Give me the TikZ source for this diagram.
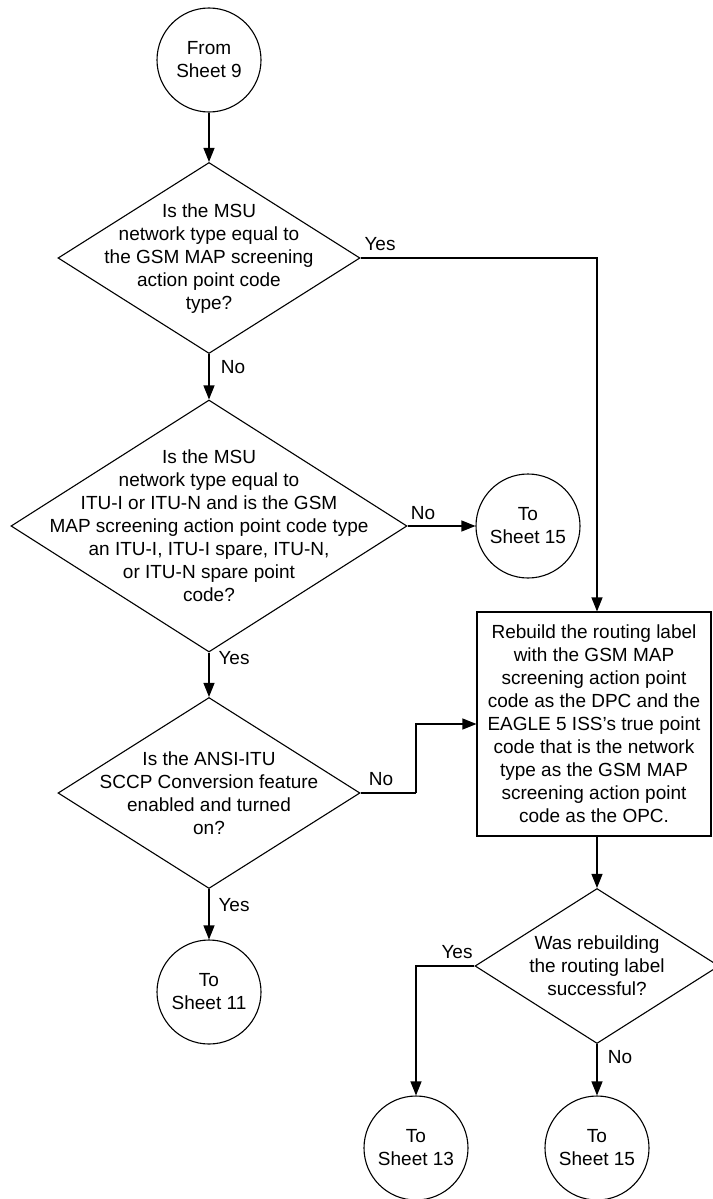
\documentclass[tikz,border=0pt]{standalone}
\usepackage{fontspec}
\setmainfont{Liberation Sans}
\usetikzlibrary{shapes.geometric,arrows.meta}
\begin{document}
\begin{tikzpicture}[x=1pt,y=-1pt,
  every node/.style={font=\fontsize{19}{23}\selectfont},
  conn/.style={circle,draw,line width=1.1pt,minimum size=104pt,inner sep=0pt,align=center},
  dia/.style={diamond,draw,line width=1.1pt,inner sep=0pt},
  txt/.style={align=center,inner sep=0pt},
  proc/.style={rectangle,draw,line width=1.1pt,minimum width=234pt,minimum height=224pt,align=center,inner sep=0pt},
  lbl/.style={inner sep=0pt},
  line/.style={line width=1.1pt},
  arr/.style={line width=1.1pt,-{Triangle[length=14pt,width=11pt]}}]
\useasboundingbox (0,0) rectangle (712,1199);
% nodes
\node[conn] (c1) at (209,60) {From\\Sheet 9};
\node[dia,minimum width=302pt,minimum height=191pt] (d1) at (209,258) {};
\node[txt] (t1) at (209,259) {Is the MSU\\network type equal to\\the GSM MAP screening\\action point code\\type?};
\node[dia,minimum width=396pt,minimum height=252pt] (d2) at (209,526) {};
\node[txt] (t2) at (209,526) {Is the MSU\\network type equal to\\ITU-I or ITU-N and is the GSM\\MAP screening action point code type\\an ITU-I, ITU-I spare, ITU-N,\\or ITU-N spare point\\code?};
\node[conn] (c2) at (528,526) {To\\Sheet 15};
\node[dia,minimum width=302pt,minimum height=191pt] (d3) at (209,793) {};
\node[txt] (t3) at (209,793) {Is the ANSI-ITU\\SCCP Conversion feature\\enabled and turned\\on?};
\node[conn] (c3) at (209,992) {To\\Sheet 11};
\node[proc] (box) at (594,724) {Rebuild the routing label\\with the GSM MAP\\screening action point\\code as the DPC and the\\EAGLE 5 ISS's true point\\code that is the network\\type as the GSM MAP\\screening action point\\code as the OPC.};
\node[dia,minimum width=244pt,minimum height=155pt] (d4) at (597,966) {};
\node[txt] (t4) at (597,966) {Was rebuilding\\the routing label\\successful?};
\node[conn] (c4) at (416,1148) {To\\Sheet 13};
\node[conn] (c5) at (597,1148) {To\\Sheet 15};
\coordinate (k3) at (416,793);
% connectors
\draw[arr] (c1.south) -- (d1.north);
\draw[arr] (d1.east) -| (d4.north |- box.north);
\draw[arr] (d1.south) -- (d2.north);
\draw[arr] (d2.east) -- (c2.west);
\draw[arr] (d2.south) -- (d3.north);
\draw[arr] (d3.south) -- (c3.north);
\draw[line] (d3.east) -- (k3);
\draw[arr] (k3) |- (box.west);
\draw[arr] (d4.north |- box.south) -- (d4.north);
\draw[arr] (d4.west) -| (c4.north);
\draw[arr] (d4.south) -- (c5.north);
% labels
\node[lbl] (l1) at (380,244) {Yes};
\node[lbl] (l2) at (233,367) {No};
\node[lbl] (l3) at (423,513) {No};
\node[lbl] (l4) at (234,658) {Yes};
\node[lbl] (l5) at (381,779) {No};
\node[lbl] (l6) at (234,905) {Yes};
\node[lbl] (l7) at (457,952) {Yes};
\node[lbl] (l8) at (620,1057) {No};
\end{tikzpicture}
\end{document}
